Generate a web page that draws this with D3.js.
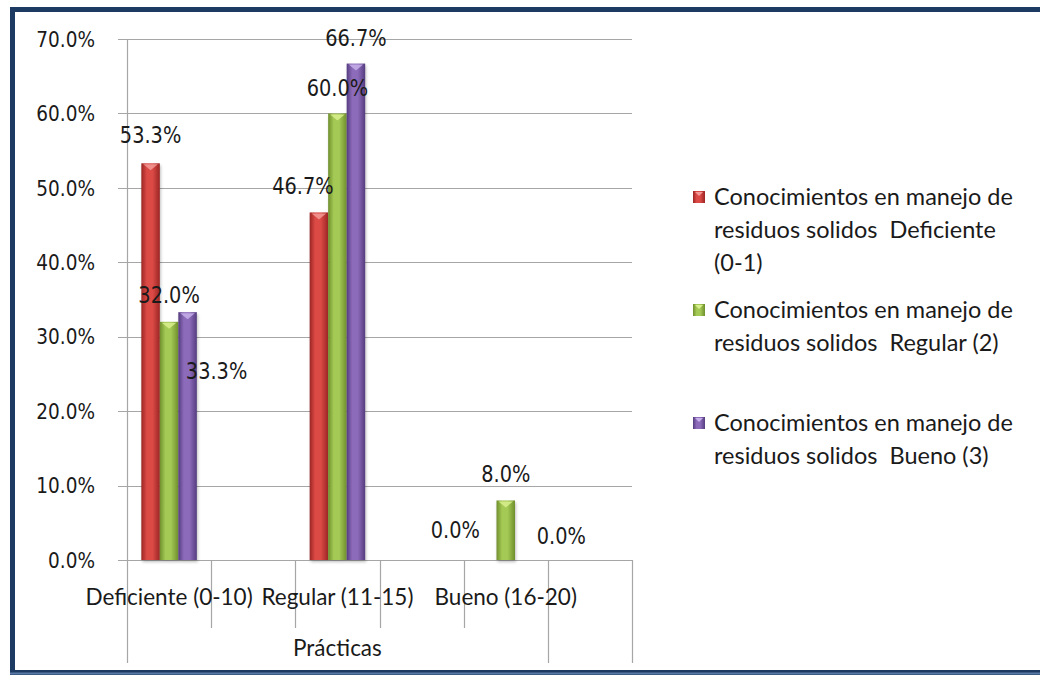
<!DOCTYPE html>
<html>
<head>
<meta charset="utf-8">
<script src="https://cdn.jsdelivr.net/npm/d3@7"></script>
<style>
  html, body { margin: 0; padding: 0; background: #fff; }
  svg { display: block; }
  text { white-space: pre; }
</style>
</head>
<body>
<svg id="chart" width="1040" height="675"></svg>
<script>
// --- DATA ---
const categories = ["Deficiente (0-10)", "Regular (11-15)", "Bueno (16-20)"];
const seriesNames = [
  "Conocimientos en manejo de residuos solidos  Deficiente (0-1)",
  "Conocimientos en manejo de residuos solidos  Regular (2)",
  "Conocimientos en manejo de residuos solidos  Bueno (3)"
];
const deficienteValues = [0.533, 0.467, 0.0];
const regularValues = [0.32, 0.60, 0.08];
const buenoValues = [0.333, 0.667, 0.0];
const yTicks = [0, 0.1, 0.2, 0.3, 0.4, 0.5, 0.6, 0.7];
const axisTitle = "Prácticas";
// legend text broken into lines like the original
const legendLines = [
  ["Conocimientos en manejo de", "residuos solidos  Deficiente", "(0-1)"],
  ["Conocimientos en manejo de", "residuos solidos  Regular (2)"],
  ["Conocimientos en manejo de", "residuos solidos  Bueno (3)"]
];

// --- SETUP ---
const svg = d3.select("#chart");
const colors = [
  { edge: "#9a2624", mid: "#dc4a46", light: "#f29a97" },
  { edge: "#6f8f2c", mid: "#a4c955", light: "#d9f08e" },
  { edge: "#553c80", mid: "#8c6bba", light: "#c7b0ea" }
];
const seriesValues = [deficienteValues, regularValues, buenoValues];

// 6 slots on the category axis, data sits in slots 0, 2, 4
const slotCount = 6;
const catSlot = [0, 2, 4];
const plotLeft = 127, plotRight = 632, plotTop = 39, plotBottom = 560;

const x = d3.scaleBand().domain(d3.range(slotCount)).range([plotLeft, plotRight]);
const groupWidth = 55.5;
const xSub = d3.scaleBand().domain(d3.range(3))
  .range([(x.bandwidth() - groupWidth) / 2, (x.bandwidth() + groupWidth) / 2]);
const y = d3.scaleLinear().domain([0, 0.7]).range([plotBottom, plotTop]);
const fmt = d3.format(".1%");
const numFont = "DejaVu Sans", numSize = 21.5, numSqueeze = 0.86;
const txtFont = "Lato";

// gradients
const defs = svg.append("defs");
colors.forEach((c, i) => {
  const g = defs.append("linearGradient").attr("id", "grad" + i)
    .attr("x1", "0").attr("x2", "1").attr("y1", "0").attr("y2", "0");
  g.append("stop").attr("offset", "0%").attr("stop-color", c.edge);
  g.append("stop").attr("offset", "30%").attr("stop-color", c.mid);
  g.append("stop").attr("offset", "60%").attr("stop-color", c.mid);
  g.append("stop").attr("offset", "100%").attr("stop-color", c.edge);
});
const blur = defs.append("filter").attr("id", "shadow").attr("x", "-30%").attr("y", "-10%")
  .attr("width", "160%").attr("height", "130%");
blur.append("feGaussianBlur").attr("stdDeviation", 1.5);

// frame
svg.append("rect").attr("x", 12.5).attr("y", 9.5).attr("width", 1100).attr("height", 663)
  .attr("fill", "#fff").attr("stroke", "#1d3a62").attr("stroke-width", 5);
svg.append("line").attr("x1", 10).attr("x2", 1040).attr("y1", 673.5).attr("y2", 673.5)
  .attr("stroke", "#5b7aa6").attr("stroke-width", 2);

// --- GRID & AXES ---
svg.append("g").selectAll("line").data(yTicks).join("line")
  .attr("x1", 118).attr("x2", plotRight)
  .attr("y1", d => Math.round(y(d)) + 0.5).attr("y2", d => Math.round(y(d)) + 0.5)
  .attr("stroke", "#a6a6a6").attr("stroke-width", 1.2);

svg.append("line").attr("x1", plotLeft + 0.5).attr("x2", plotLeft + 0.5)
  .attr("y1", plotTop).attr("y2", 663).attr("stroke", "#a6a6a6").attr("stroke-width", 1.2);

// category ticks below the axis
const slotEdges = d3.range(1, slotCount + 1).map(i => x(i - 1) + x.step());
svg.append("g").selectAll("line").data(slotEdges).join("line")
  .attr("x1", d => Math.round(d) + 0.5).attr("x2", d => Math.round(d) + 0.5)
  .attr("y1", plotBottom).attr("y2", (d, i) => (i >= slotCount - 2 ? 663 : 628))
  .attr("stroke", "#a6a6a6").attr("stroke-width", 1.2);

svg.append("g").selectAll("text").data(yTicks).join("text")
  .attr("transform", d => `translate(95,${y(d)}) scale(${numSqueeze},1)`)
  .attr("dy", "0.36em").attr("text-anchor", "end")
  .attr("font-family", numFont).attr("font-size", numSize).attr("fill", "#1a1a1a")
  .text(d => fmt(d));

svg.append("g").selectAll("text").data(categories).join("text")
  .attr("x", (d, i) => x(catSlot[i]) + x.bandwidth() / 2)
  .attr("y", 597).attr("dy", "0.36em").attr("text-anchor", "middle")
  .attr("font-family", txtFont).attr("font-size", 22.5).attr("fill", "#1a1a1a")
  .text(d => d);

svg.append("text").attr("x", (plotLeft + slotEdges[4]) / 2).attr("y", 648).attr("dy", "0.36em")
  .attr("text-anchor", "middle").attr("font-family", txtFont).attr("font-size", 22.5)
  .attr("fill", "#1a1a1a").text(axisTitle);

// --- BARS ---
const barData = [];
seriesValues.forEach((vals, s) => {
  vals.forEach((v, c) => barData.push({ s, c, v }));
});

const bars = svg.append("g");
const bw = xSub.bandwidth();
// soft shadow
bars.selectAll("rect.shadow").data(barData.filter(d => d.v > 0)).join("rect")
  .attr("class", "shadow")
  .attr("x", d => x(catSlot[d.c]) + xSub(d.s) + 1)
  .attr("y", d => y(d.v) + 2)
  .attr("width", bw).attr("height", d => plotBottom - y(d.v))
  .attr("fill", "#000").attr("opacity", 0.25).attr("filter", "url(#shadow)");

bars.selectAll("rect.bar").data(barData.filter(d => d.v > 0)).join("rect")
  .attr("class", "bar")
  .attr("x", d => x(catSlot[d.c]) + xSub(d.s))
  .attr("y", d => y(d.v))
  .attr("width", bw).attr("height", d => plotBottom - y(d.v))
  .attr("fill", d => `url(#grad${d.s})`);

// bevel highlight on the top
bars.selectAll("path.top").data(barData.filter(d => d.v > 0)).join("path")
  .attr("class", "top")
  .attr("d", d => {
    const x0 = x(catSlot[d.c]) + xSub(d.s), y0 = y(d.v);
    return `M${x0 + 2},${y0 + 1}L${x0 + bw - 2},${y0 + 1}L${x0 + bw / 2},${y0 + 7}Z`;
  })
  .attr("fill", d => colors[d.s].light).attr("opacity", 0.85);

// --- DATA LABELS (offsets from bar top centre, as placed in the original) ---
const labelOffsets = [
  [[0, -28], [-16, -27], [-32, -30]],
  [[0, -27], [0, -26], [0, -27]],
  [[29, 59], [0, -26], [37, -24]]
];
svg.append("g").selectAll("text").data(barData).join("text")
  .attr("transform", d => {
    const lx = x(catSlot[d.c]) + xSub(d.s) + bw / 2 + labelOffsets[d.s][d.c][0];
    const ly = y(d.v) + labelOffsets[d.s][d.c][1];
    return `translate(${lx},${ly}) scale(${numSqueeze},1)`;
  })
  .attr("dy", "0.36em").attr("text-anchor", "middle")
  .attr("font-family", numFont).attr("font-size", numSize + 1).attr("fill", "#1a1a1a")
  .text(d => fmt(d.v));

// --- LEGEND ---
const legendTop = [197, 310, 423];
const lineGap = 33;
const legend = svg.append("g");
seriesNames.forEach((name, i) => {
  const g = legend.append("g").attr("transform", `translate(693,${legendTop[i]})`);
  g.append("rect").attr("x", 0).attr("y", -6).attr("width", 12).attr("height", 12)
    .attr("fill", `url(#grad${i})`);
  g.append("path").attr("d", "M2,-5L10,-5L6,-1Z").attr("fill", colors[i].light);
  g.selectAll("text").data(legendLines[i]).join("text")
    .attr("x", 21).attr("y", (d, j) => j * lineGap).attr("dy", "0.36em")
    .attr("font-family", txtFont).attr("font-size", 23.5).attr("fill", "#1a1a1a")
    .text(d => d);
});
</script>
</body>
</html>
